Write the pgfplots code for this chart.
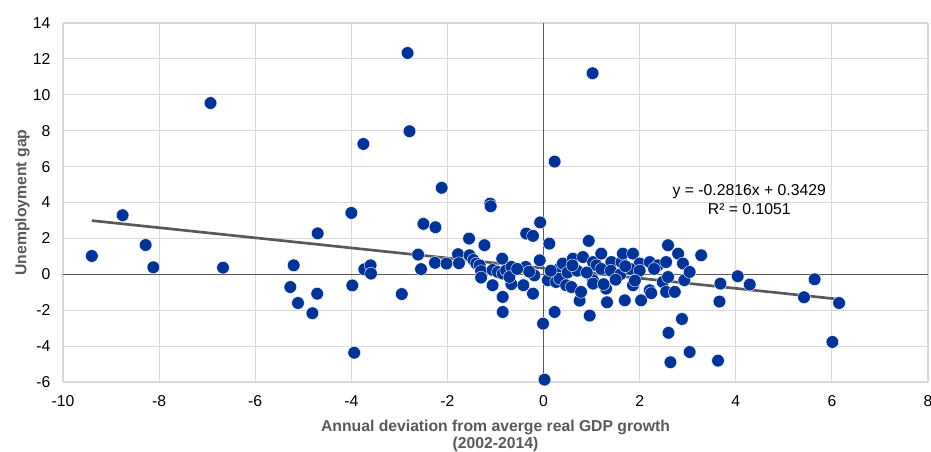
\documentclass[border=0pt]{standalone}
\usepackage{fontspec}
\setmainfont{Liberation Sans}
\usepackage{pgfplots}
\pgfplotsset{compat=1.18}
\definecolor{dotblue}{RGB}{0,51,153}
\definecolor{labgray}{RGB}{89,89,89}
\definecolor{gridgray}{RGB}{217,217,217}
\begin{document}
\begin{tikzpicture}
\path[use as bounding box] (-47.25pt,-52.5pt) rectangle (651pt,286.5pt);
\begin{axis}[
  at={(0,0)}, anchor=south west,
  scale only axis,
  width=648.75pt, height=269.25pt,
  xmin=-10, xmax=8, ymin=-6, ymax=14,
  xtick={-10,-8,...,8}, ytick={-6,-4,...,14},
  axis line style={draw=none},
  grid=major,
  major grid style={draw=gridgray, line width=0.8pt},
  major tick length=0pt,
  /pgf/number format/assume math mode=true,
  tick label style={font=\fontsize{11.8}{13}\selectfont, text=black},
  xticklabel style={yshift=-6.5pt},
  yticklabel style={xshift=-6pt},
  xlabel={\textbf{Annual deviation from averge real GDP growth}\\\textbf{(2002-2014)}},
  xlabel style={font=\fontsize{11.8}{12.8}\selectfont, text=labgray, align=center, yshift=-3.5pt},
  ylabel={\textbf{Unemployment gap}},
  ylabel style={font=\fontsize{11.8}{12.8}\selectfont, text=labgray, yshift=-4.5pt},
  clip=false,
]
\addplot[draw=labgray, line width=0.75pt] coordinates {(0,-6) (0,14)};
\addplot[draw=labgray, line width=0.75pt] coordinates {(-10,0) (8,0)};
\addplot[only marks, mark=*, mark size=4.75pt, mark options={fill=dotblue, draw=white, line width=0.3pt}] coordinates {
(-9.40,1.02) (-8.76,3.29) (-8.28,1.63) (-8.12,0.39) (-6.93,9.54) (-6.67,0.37)
(-5.20,0.50) (-5.27,-0.71) (-5.11,-1.60) (-4.81,-2.17) (-4.71,-1.08) (-4.70,2.28)
(-4.00,3.42) (-3.98,-0.62) (-3.94,-4.37) (-3.75,7.26) (-3.73,0.28) (-3.60,0.50)
(-3.59,0.04) (-2.95,-1.10) (-2.83,12.33) (-2.79,7.97) (-2.61,1.10) (-2.55,0.29)
(-2.50,2.81) (-2.25,2.62) (-2.26,0.64) (-2.12,4.82) (-2.02,0.60) (-1.78,1.12)
(-1.76,0.62) (-1.55,1.99) (-1.54,1.06) (-1.46,0.80) (-1.40,0.60) (-1.23,1.62)
(-1.33,0.50) (-1.30,0.18) (-1.30,-0.18) (-1.11,3.94) (-1.10,3.79) (-1.06,0.24)
(-0.95,0.13) (-1.06,-0.61) (-0.86,0.87) (-0.85,0.04) (-0.78,0.22) (-0.85,-1.26)
(-0.85,-2.10) (-0.67,0.41) (-0.67,-0.55) (-0.71,-0.15) (-0.42,-0.61) (-0.37,0.41)
(-0.36,2.27) (-0.22,2.14) (-0.22,-1.08) (-0.19,-0.06) (-0.08,0.78) (-0.07,2.89)
(-0.01,-2.75) (0.02,-5.87) (0.09,-0.33) (0.12,1.71) (0.23,6.28) (0.23,-2.10)
(0.26,-0.43) (0.33,0.32) (0.33,-0.24) (0.40,0.60) (0.47,-0.61) (0.58,-0.71)
(0.61,0.87) (0.75,-1.47) (0.78,-0.98) (0.82,0.96) (0.94,1.86) (0.96,-2.30)
(1.02,11.20) (1.03,0.68) (1.03,-0.33) (1.03,-0.52) (1.10,0.50) (1.20,1.15)
(1.30,-0.80) (1.32,-1.56) (1.41,0.68) (1.62,0.68) (1.65,1.15) (1.69,-1.45)
(1.86,1.15) (1.86,-0.61) (2.00,0.60) (2.03,-1.45) (2.21,0.68) (2.21,-0.89)
(2.24,-1.05) (2.38,0.50) (2.48,-0.43) (2.55,0.68) (2.55,-0.98) (2.59,1.62)
(2.59,-0.15) (2.73,-0.98) (2.80,1.15) (2.90,0.60) (2.93,-0.33) (3.04,0.13)
(3.28,1.06) (2.88,-2.49) (2.60,-3.26) (3.04,-4.33) (2.64,-4.90) (3.63,-4.81)
(3.66,-1.52) (3.68,-0.52) (4.04,-0.11) (4.29,-0.57) (5.42,-1.28) (5.64,-0.28)
(6.01,-3.77) (6.15,-1.60)
(0.50,0.10) (0.70,0.20) (0.90,0.10) (1.20,0.30) (1.40,0.20) (1.60,0.00)
(1.80,0.30) (2.00,0.20) (2.30,0.30) (1.50,-0.30) (1.70,0.45) (0.60,0.50)
(1.25,-0.55) (1.90,-0.35) (0.15,0.20) (-0.30,0.15) (-0.55,0.30)
};
\addplot[draw=labgray, line width=2pt] coordinates {(-9.4,2.990) (6.15,-1.389)};
\node[align=center, font=\fontsize{11.8}{14.25}\selectfont, text=black] at (axis cs:4.28,4.15) {y = -0.2816x + 0.3429\\R² = 0.1051};
\end{axis}
\end{tikzpicture}
\end{document}
